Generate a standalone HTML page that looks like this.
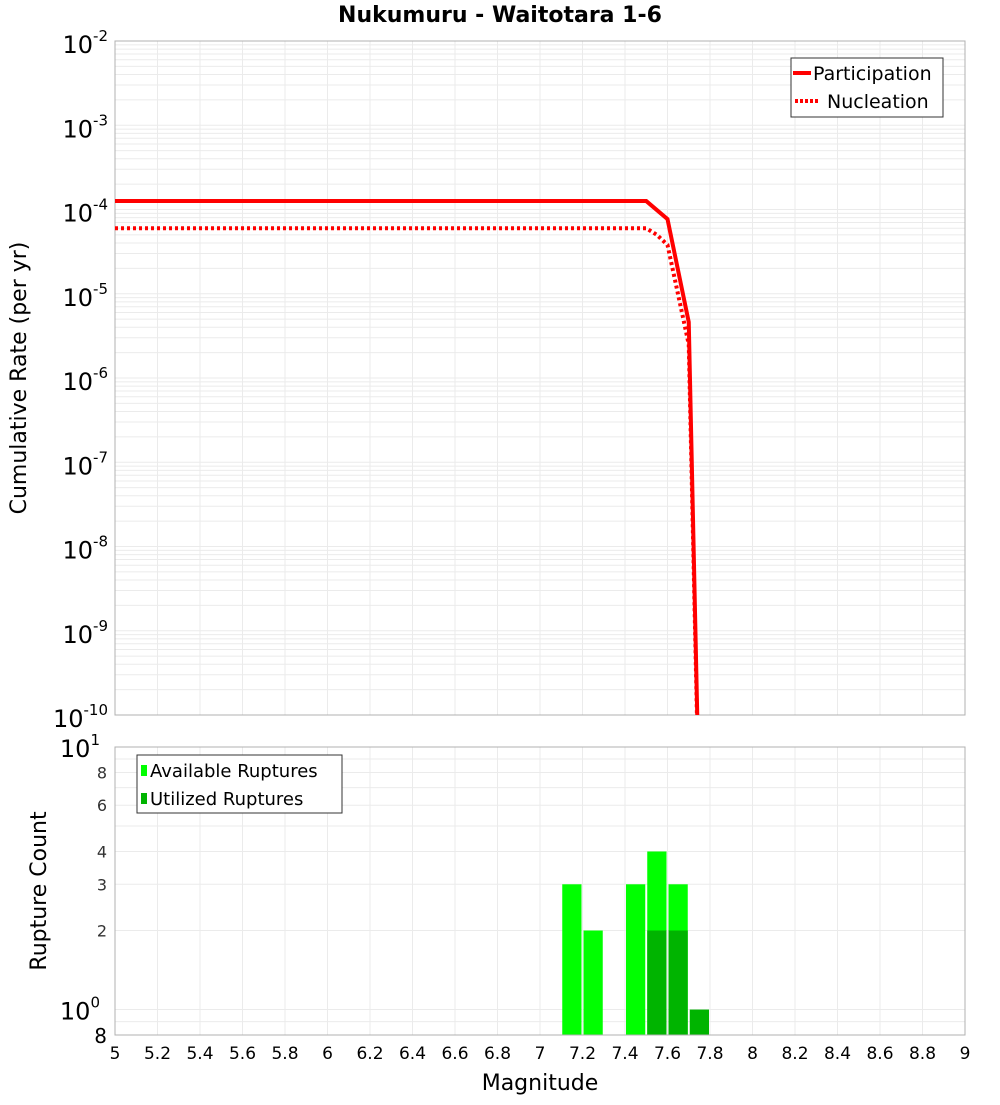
<!DOCTYPE html>
<html><head><meta charset="utf-8"><style>
body{margin:0;background:#fff;}
svg text{font-family:"DejaVu Sans","Liberation Sans",sans-serif;}
</style></head><body>
<svg id="c" width="1000" height="1100" xmlns="http://www.w3.org/2000/svg">
<text x="500" y="22" text-anchor="middle" font-size="22" font-weight="bold">Nukumuru - Waitotara 1-6</text>
<g id="topG"></g>
<g id="botG"></g>
<text transform="translate(26,378) rotate(-90)" text-anchor="middle" font-size="22">Cumulative Rate (per yr)</text>
<text transform="translate(46,891) rotate(-90)" text-anchor="middle" font-size="22">Rupture Count</text>
<text x="540" y="1090" text-anchor="middle" font-size="22">Magnitude</text>
</svg>
<script>
const partMag=[5,7.5,7.6,7.7,7.8];
const partRate=[1.26e-4,1.26e-4,7.7e-5,4.6e-6,1e-17];
const nuclMag=[5,7.5,7.55,7.6,7.7,7.8];
const nuclRate=[6.0e-5,6.0e-5,5.0e-5,3.8e-5,2.5e-6,1e-17];
const binMag=[7.15,7.25,7.45,7.55,7.65,7.75];
const availCount=[3,2,3,4,3,0];
const utilCount=[0,0,0,2,2,1];
const xTicks=[5,5.2,5.4,5.6,5.8,6,6.2,6.4,6.6,6.8,7,7.2,7.4,7.6,7.8,8,8.2,8.4,8.6,8.8,9];
const rateExps=[-2,-3,-4,-5,-6,-7,-8,-9,-10];
const countTicks=[8,6,4,3,2];

const NS="http://www.w3.org/2000/svg";
const L=115,R=965;
const X=m=>L+(m-5)/4*(R-L);
const T0=41,T1=715;
const Yt=v=>T0+(-2-Math.log10(v))*(T1-T0)/8;
const B0=747,B1=1035;
const Yb=v=>B0+(1-Math.log10(v))*(B1-B0)/(1-Math.log10(0.8));
function el(p,t,a){const e=document.createElementNS(NS,t);for(const k in a)e.setAttribute(k,a[k]);p.appendChild(e);return e;}
const topG=document.getElementById('topG'),botG=document.getElementById('botG');
const svgEl=document.getElementById('c');

for(let e=-10;e<-2;e++)for(let k=1;k<10;k++){const y=Yt(k*Math.pow(10,e));
 const g=el(topG,'line',{x1:L,x2:R,y1:y,y2:y,stroke:'#ebebeb','stroke-width':1});
 
 }
for(const m of xTicks){const g=el(topG,'line',{x1:X(m),x2:X(m),y1:T0,y2:T1,stroke:'#ebebeb'});
 
 }
el(topG,'rect',{x:L,y:T0,width:R-L,height:T1-T0,fill:'none',stroke:'#b0b0b0'});
for(const e of rateExps){const y=Yt(Math.pow(10,e));
 const t=el(topG,'text',{x:108,y:y+12,'text-anchor':'end','font-size':24});
 
 
 t.innerHTML='10<tspan dy="-12" font-size="15">'+e+'</tspan>';}
const cp=el(svgEl,'clipPath',{id:'cp'});el(cp,'rect',{x:L,y:T0,width:R-L,height:T1-T0});
const pts=(ms,vs)=>ms.map((m,i)=>X(m)+','+Yt(vs[i])).join(' ');
const nl=el(topG,'polyline',{points:pts(nuclMag,nuclRate),fill:'none',stroke:'#ff0000','stroke-width':4,'stroke-dasharray':'3,3','clip-path':'url(#cp)'});


const pl=el(topG,'polyline',{points:pts(partMag,partRate),fill:'none',stroke:'#ff0000','stroke-width':4,'clip-path':'url(#cp)'});


const lg=el(topG,'g',{});


el(lg,'rect',{x:791,y:58,width:152,height:59,fill:'#fff',stroke:'#333'});
el(lg,'line',{x1:793,x2:811,y1:73,y2:73,stroke:'#f00','stroke-width':4});
el(lg,'line',{x1:795,x2:820,y1:101,y2:101,stroke:'#f00','stroke-width':4,'stroke-dasharray':'3,2'});
let t=el(lg,'text',{x:813,y:80,'font-size':19});t.textContent='Participation';
t=el(lg,'text',{x:827,y:108,'font-size':19});t.textContent='Nucleation';

for(let e=-1;e<1;e++)for(let k=1;k<10;k++){const v=k*Math.pow(10,e);if(v<0.8)continue;const y=Yb(v);
 const g=el(botG,'line',{x1:L,x2:R,y1:y,y2:y,stroke:'#ebebeb'});
 
 }
for(const m of xTicks){const g=el(botG,'line',{x1:X(m),x2:X(m),y1:B0,y2:B1,stroke:'#ebebeb'});
 
 }
binMag.forEach((m,i)=>{
 if(availCount[i]>0){const r=el(botG,'rect',{x:X(m-0.05)+1,y:Yb(availCount[i]),width:X(m+0.05)-X(m-0.05)-2,height:B1-Yb(availCount[i]),fill:'#00ff00'});
  
  }
 if(utilCount[i]>0){const r=el(botG,'rect',{x:X(m-0.05)+1,y:Yb(utilCount[i]),width:X(m+0.05)-X(m-0.05)-2,height:B1-Yb(utilCount[i]),fill:'#00b400'});
  
  }
});
el(botG,'rect',{x:L,y:B0,width:R-L,height:B1-B0,fill:'none',stroke:'#b0b0b0'});
[[10,'10','1'],[1,'10','0']].forEach(([v,b,s])=>{const tt=el(botG,'text',{x:100,y:Yb(v)+10,'text-anchor':'end','font-size':24});
 
 
 tt.innerHTML=b+'<tspan dy="-12" font-size="15">'+s+'</tspan>';});
for(const v of countTicks){const tt=el(botG,'text',{x:107,y:Yb(v)+6,'text-anchor':'end','font-size':16,fill:'#333'});
 
 
 tt.textContent=v;}
t=el(botG,'text',{x:107,y:1043,'text-anchor':'end','font-size':20});t.textContent='8';
for(const m of xTicks){const tt=el(botG,'text',{x:X(m),y:1059,'text-anchor':'middle','font-size':17});
 
 
 tt.textContent=String(m);}
const lb=el(botG,'g',{});


el(lb,'rect',{x:137,y:755,width:205,height:58,fill:'#fff',stroke:'#333'});
el(lb,'rect',{x:141,y:765,width:6,height:11,fill:'#00ff00'});
el(lb,'rect',{x:141,y:793,width:6,height:11,fill:'#00b400'});
t=el(lb,'text',{x:150,y:777,'font-size':18});t.textContent='Available Ruptures';
t=el(lb,'text',{x:150,y:805,'font-size':18});t.textContent='Utilized Ruptures';
</script>
</body></html>
